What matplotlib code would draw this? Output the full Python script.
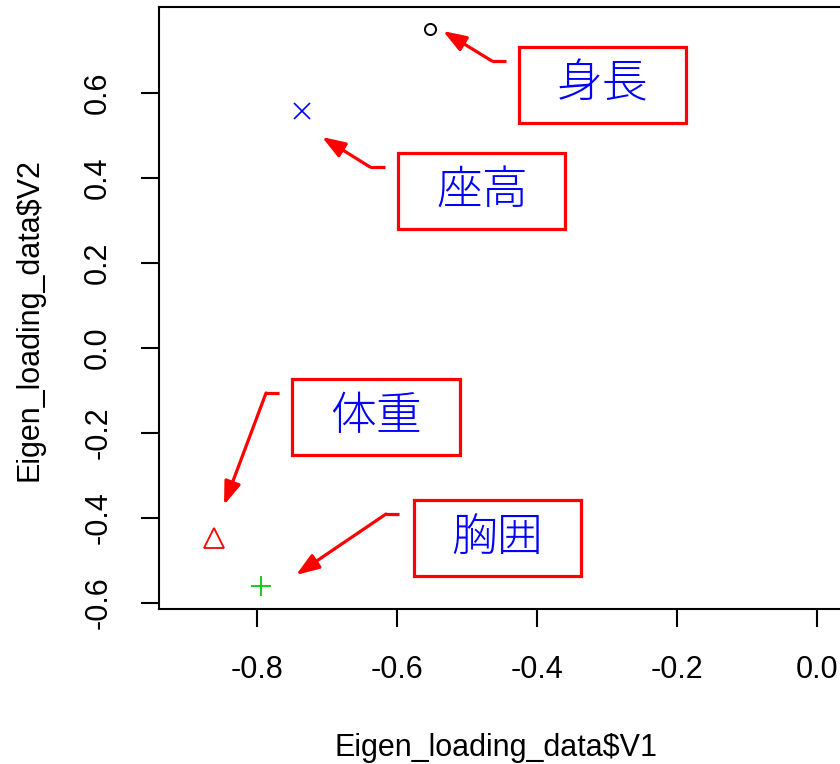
import matplotlib
matplotlib.use('Agg')
import matplotlib.pyplot as plt
from matplotlib.patches import Rectangle

plt.rcParams['font.family'] = ['Liberation Sans', 'Noto Sans CJK JP', 'DejaVu Sans']

# ---- data ----
names = ['身長', '座高', '体重', '胸囲']
v1 = [-0.553, -0.736, -0.862, -0.794]
v2 = [0.751, 0.558, -0.447, -0.560]
markers = ['o', 'x', '^', '+']
colors = ['black', 'blue', 'red', '#00CD00']
xticks = [-0.8, -0.6, -0.4, -0.2, 0.0]
yticks = [-0.6, -0.4, -0.2, 0.0, 0.2, 0.4, 0.6]
xtick_labels = ['-0.8', '-0.6', '-0.4', '-0.2', '0.0']
ytick_labels = ['-0.6', '-0.4', '-0.2', '0.0', '0.2', '0.4', '0.6']

# ---- annotation layout (data coords) ----
box_cx = [-0.3064, -0.4786, -0.6300, -0.4571]
box_cy = [0.6188, 0.3706, -0.1624, -0.4471]
box_w, box_h = 0.2386, 0.1788
arrow_start = [(-0.4443, 0.6753), (-0.6171, 0.4259), (-0.7686, -0.1059), (-0.5971, -0.3906)]
arrow_knee = [(-0.4643, 0.6753), (-0.6386, 0.4259), (-0.7871, -0.1059), (-0.6157, -0.3906)]
arrow_tip = [(-0.5343, 0.7459), (-0.7071, 0.4965), (-0.8471, -0.3694), (-0.7443, -0.5341)]

fig = plt.figure(figsize=(8.4, 7.64), dpi=100)
ax = fig.add_axes([159/840, (764-609)/764, (887-159)/840, (609-7)/764])

msizes = [8, 11, 14, 15]
mews = [1.4, 1.2, 1.3, 1.3]
for x, y, m, c, ms, mew in zip(v1, v2, markers, colors, msizes, mews):
    ax.plot([x], [y], linestyle='none', marker=m, color=c, markersize=ms,
            markeredgewidth=mew, fillstyle='none')

for i, nm in enumerate(names):
    ax.add_patch(Rectangle((box_cx[i] - box_w/2, box_cy[i] - box_h/2), box_w, box_h,
                           fill=False, edgecolor='red', linewidth=2.3, zorder=3))
    ax.text(box_cx[i], box_cy[i], nm, ha='center', va='center', color='blue',
            fontsize=33, fontweight='light',
            family=['Noto Sans CJK JP', 'DejaVu Sans'], zorder=4)
    sx, sy = arrow_start[i]
    kx, ky = arrow_knee[i]
    ax.plot([sx, kx], [sy, ky], color='red', linewidth=2.3, solid_capstyle='butt')
    ax.annotate('', xy=arrow_tip[i], xytext=arrow_knee[i],
                arrowprops=dict(arrowstyle='-|>,head_length=1.4,head_width=0.5',
                                color='red', lw=2.3, shrinkA=0, shrinkB=0,
                                mutation_scale=10))

ax.set_xlim(-0.94, 0.10)
ax.set_ylim(-0.6141, 0.8024)
ax.set_xticks(xticks)
ax.set_xticklabels(xtick_labels)
ax.set_yticks(yticks)
ax.set_yticklabels(ytick_labels, rotation=90, va='center')
ax.tick_params(axis='both', length=13, width=1.5, pad=20, labelsize=22, colors='black')
for s in ax.spines.values():
    s.set_linewidth(1.5)

ax.set_xlabel('Eigen_loading_data$V1', fontsize=22)
ax.xaxis.set_label_coords((496-159)/728, (609-733)/602)
ax.set_ylabel('Eigen_loading_data$V2', fontsize=22)
ax.yaxis.set_label_coords((45-159)/728, (609-320)/602)

fig.savefig('out.png', dpi=100)
